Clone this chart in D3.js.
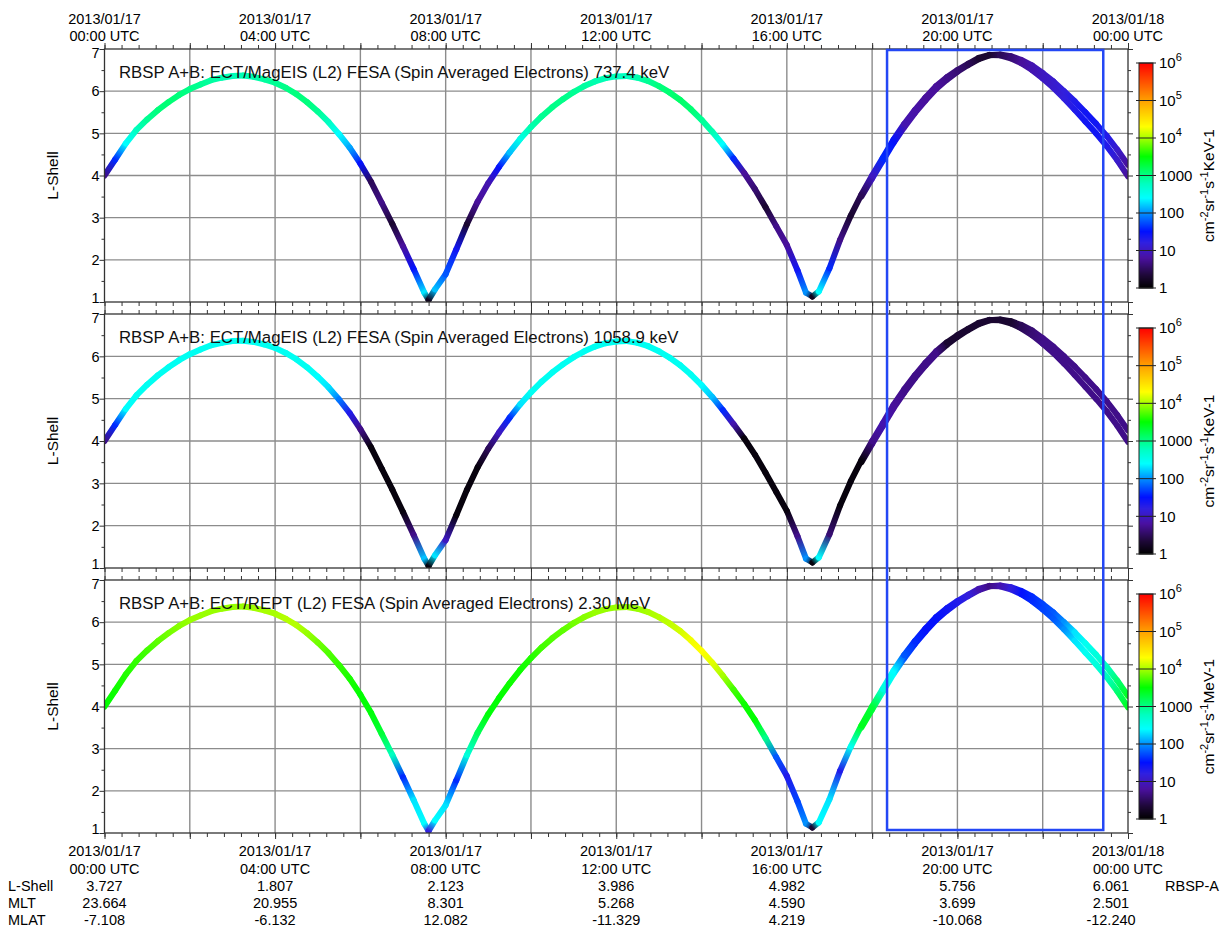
<!DOCTYPE html>
<html>
<head>
  <meta charset="UTF-8" />
  <title>RBSP A+B ECT FESA, 2013/01/17</title>
  <script src="https://cdn.jsdelivr.net/npm/d3@7"></script>
  <style>
    body { margin: 0; background: #fff; }
    svg { display: block; font-family: 'Liberation Sans', Arial, Helvetica, sans-serif; }
  </style>
</head>
<body>
<svg id="chart" width="1222" height="928"></svg>
<script>
  // hours after 2013/01/17 00:00 UTC
  const hours = [
    0, 0.25, 0.5, 0.75, 1, 1.25, 1.5, 1.75, 2, 2.25, 2.5, 2.75, 3, 3.25, 3.5, 3.75,
    4, 4.25, 4.5, 4.75, 5, 5.25, 5.5, 5.75, 6, 6.25, 6.5, 6.75, 7, 7.25, 7.5, 7.6,
    7.75, 8, 8.25, 8.5, 8.75, 9, 9.25, 9.5, 9.75, 10, 10.25, 10.5, 10.75, 11, 11.25, 11.5,
    11.75, 12, 12.25, 12.5, 12.75, 13, 13.25, 13.5, 13.75, 14, 14.25, 14.5, 14.75, 15, 15.25, 15.5,
    15.75, 16, 16.25, 16.45, 16.6, 16.75, 17, 17.25, 17.5, 17.75, 18, 18.25, 18.5, 18.75, 19, 19.25,
    19.5, 19.75, 20, 20.25, 20.5, 20.75, 21, 21.25, 21.5, 21.75, 22, 22.25, 22.5, 22.75, 23, 23.25, 23.5, 23.75, 24
  ];
  const lShellA = [
    4.00, 4.38, 4.76, 5.08, 5.33, 5.55, 5.74, 5.91, 6.05, 6.16, 6.26, 6.32, 6.36, 6.37, 6.34, 6.28,
    6.20, 6.08, 5.93, 5.74, 5.52, 5.27, 4.98, 4.66, 4.28, 3.85, 3.35, 2.85, 2.32, 1.78, 1.22, 1.05,
    1.30, 1.66, 2.25, 2.85, 3.38, 3.82, 4.20, 4.55, 4.87, 5.15, 5.40, 5.62, 5.81, 5.98, 6.12, 6.23,
    6.31, 6.35, 6.36, 6.32, 6.24, 6.12, 5.97, 5.79, 5.57, 5.32, 5.04, 4.73, 4.40, 4.06, 3.68, 3.25,
    2.80, 2.35, 1.75, 1.22, 1.13, 1.25, 1.80, 2.48, 3.05, 3.55, 4.00, 4.42, 4.85, 5.22, 5.55, 5.85,
    6.12, 6.33, 6.50, 6.65, 6.79, 6.86, 6.85, 6.78, 6.66, 6.50, 6.30, 6.08, 5.83, 5.56, 5.28, 5.00, 4.70, 4.36, 3.98
  ];
  // second spacecraft, only where it separates from the first
  const hoursB = [
    17.75, 18, 18.25, 18.5, 18.75, 19, 19.25, 19.5, 19.75, 20, 20.25, 20.5, 20.75,
    21, 21.25, 21.5, 21.75, 22, 22.25, 22.5, 22.75, 23, 23.25, 23.5, 23.75, 24
  ];
  const lShellB = [
    3.50, 3.93, 4.35, 4.77, 5.14, 5.48, 5.78, 6.05, 6.27, 6.46, 6.62, 6.76, 6.85,
    6.87, 6.83, 6.74, 6.61, 6.43, 6.23, 6.00, 5.76, 5.50, 5.23, 4.94, 4.61, 4.25
  ];

  const flux737 = [
    5, 40, 250, 600, 900, 1100, 1200, 1100, 1000, 900, 800, 700, 650, 650, 700, 800,
    900, 1000, 1100, 1100, 900, 600, 250, 120, 30, 3, 5, 2, 6, 30, 200, 1.5,
    150, 60, 25, 2, 6, 8, 30, 150, 350, 700, 900, 1000, 1000, 900, 800, 700,
    650, 600, 600, 700, 900, 1100, 1200, 1300, 1200, 900, 700, 250, 40, 6, 4, 2,
    5, 6, 25, 100, 1.5, 250, 40, 5, 2, 3, 10, 40, 30, 8, 7, 6,
    6, 5, 4, 3, 2, 2, 3, 4, 6, 8, 10, 12, 15, 20, 25, 25, 20, 12, 6
  ];
  const flux1059 = [
    5, 40, 250, 300, 300, 300, 300, 300, 300, 300, 300, 300, 300, 300, 300, 300,
    300, 300, 300, 300, 250, 200, 80, 20, 5, 1.2, 1.2, 1.2, 1.2, 5, 150, 1.2,
    200, 10, 1.2, 1.2, 1.2, 3, 10, 40, 200, 300, 300, 300, 300, 300, 300, 300,
    300, 300, 300, 300, 300, 300, 300, 300, 300, 250, 150, 40, 8, 1.2, 1.2, 1.2,
    1.2, 1.2, 5, 100, 1.2, 250, 4, 1.2, 1.2, 1.2, 5, 8, 6, 5, 5, 5,
    5, 2, 2, 2, 2, 2, 2, 2, 3, 4, 5, 5, 5, 5, 5, 5, 5, 5, 5
  ];
  const flux2300 = [
    3200, 3500, 4000, 4500, 5000, 6000, 7000, 8000, 9000, 9000, 9000, 9000, 9000, 9000, 9500, 10000,
    10000, 11000, 11000, 9000, 7000, 5500, 4500, 3800, 3200, 3000, 2000, 600, 40, 200, 250, 15,
    250, 200, 40, 400, 1500, 3000, 3200, 3500, 3500, 4000, 5000, 5500, 6000, 7000, 8000, 9000,
    9000, 9000, 9000, 9000, 10000, 11000, 12000, 14000, 18000, 20000, 16000, 10000, 5000, 3500, 3200, 1000,
    60, 20, 50, 100, 2, 250, 200, 20, 300, 2500, 2000, 400, 250, 60, 40, 30,
    30, 25, 20, 15, 8, 5, 8, 15, 30, 40, 50, 60, 100, 200, 300, 400, 600, 1200, 2500
  ];

  const panelTitles = [
    'RBSP A+B: ECT/MagEIS (L2) FESA (Spin Averaged Electrons) 737.4 keV',
    'RBSP A+B: ECT/MagEIS (L2) FESA (Spin Averaged Electrons) 1058.9 keV',
    'RBSP A+B: ECT/REPT (L2) FESA (Spin Averaged Electrons) 2.30 MeV'
  ];
  const panelUnits = ['KeV', 'KeV', 'MeV'];

  const labelHours = [0, 4, 8, 12, 16, 20, 24];
  const rowLShell = [3.727, 1.807, 2.123, 3.986, 4.982, 5.756, 6.061];
  const rowMLT = [23.664, 20.955, 8.301, 5.268, 4.590, 3.699, 2.501];
  const rowMLAT = [-7.108, -6.132, 12.082, -11.329, 4.219, -10.068, -12.240];

  const highlightHours = [18.35, 23.42];

  const colorbarTicks = [1, 10, 100, 1000, 1e4, 1e5, 1e6];
  const colorStops = [1, 2.2, 6.3, 16, 32, 100, 250, 600, 1000, 3200, 10000, 20000, 100000, 316000, 1000000];
  const colorHex = ['#000000', '#1e0838', '#4a10a0', '#3020e0', '#0010ff', '#0090ff', '#00ffff',
    '#00ffc0', '#00ff88', '#00ff00', '#a8ff00', '#ffff00', '#ffa000', '#ff5000', '#ff0000'];

  const svg = d3.select('#chart');
  const defs = svg.append('defs');

  const day0 = Date.UTC(2013, 0, 17);
  const toDate = h => new Date(day0 + h * 3600e3);

  const x = d3.scaleUtc().domain([toDate(0), toDate(24)]).range([104.5, 1128]);
  const color = d3.scaleLog().domain(colorStops).range(colorHex).clamp(true);

  const panels = [
    { top: 49, bottom: 302, flux: flux737 },
    { top: 314, bottom: 568, flux: flux1059 },
    { top: 580, bottom: 833, flux: flux2300 }
  ];

  const gridColor = '#8c8c8c';
  const majorX = d3.utcHour.range(toDate(0), toDate(24.01), 2);
  const minorX = d3.utcMinute.range(toDate(0), toDate(24.01), 24);

  panels.forEach((p, k) => {
    const y = d3.scaleLinear().domain([1, 7]).range([p.bottom, p.top]);
    const g = svg.append('g');

    // grid
    g.append('g').selectAll('line').data(majorX.slice(1, -1)).join('line')
      .attr('x1', d => x(d)).attr('x2', d => x(d))
      .attr('y1', p.top).attr('y2', p.bottom)
      .attr('stroke', gridColor).attr('stroke-width', 1.4);
    g.append('g').selectAll('line').data([2, 3, 4, 5, 6]).join('line')
      .attr('x1', x.range()[0]).attr('x2', x.range()[1])
      .attr('y1', d => y(d)).attr('y2', d => y(d))
      .attr('stroke', gridColor).attr('stroke-width', 1.4);

    // axes ticks
    const noLabel = a => a.tickFormat('').tickSizeOuter(0);
    const axes = [
      [d3.axisTop(x).tickValues(minorX).tickSize(4), `translate(0,${p.top})`],
      [d3.axisBottom(x).tickValues(minorX).tickSize(4), `translate(0,${p.bottom})`],
      [d3.axisTop(x).tickValues(majorX).tickSize(6), `translate(0,${p.top})`],
      [d3.axisBottom(x).tickValues(majorX).tickSize(6), `translate(0,${p.bottom})`],
      [d3.axisLeft(y).tickValues(d3.range(1.5, 7, 1)).tickSize(3), `translate(${x.range()[0]},0)`],
      [d3.axisRight(y).tickValues(d3.range(1.5, 7, 1)).tickSize(3), `translate(${x.range()[1]},0)`],
      [d3.axisLeft(y).tickValues(d3.range(1, 8)).tickSize(5), `translate(${x.range()[0]},0)`],
      [d3.axisRight(y).tickValues(d3.range(1, 8)).tickSize(5), `translate(${x.range()[1]},0)`]
    ];
    axes.forEach(([a, tr]) => {
      g.append('g').attr('transform', tr).call(noLabel(a))
        .call(s => s.select('.domain').remove())
        .call(s => s.selectAll('line').attr('stroke', '#333'));
    });

    // y labels; the end values are nudged inward so neighbouring panels do not collide
    g.append('g').selectAll('text').data(d3.range(1, 8)).join('text')
      .attr('x', x.range()[0] - 5).attr('y', d => y(d))
      .attr('dy', d => d === 1 ? '0.1em' : d === 7 ? '0.62em' : '0.36em')
      .attr('text-anchor', 'end')
      .attr('font-size', 14.5).text(d => d);
    g.append('text')
      .attr('transform', `translate(58,${(p.top + p.bottom) / 2}) rotate(-90)`)
      .attr('text-anchor', 'middle').attr('font-size', 15.5).text('L-Shell');

    // data
    const clipId = 'clip' + k;
    defs.append('clipPath').attr('id', clipId).append('rect')
      .attr('x', x.range()[0]).attr('y', p.top)
      .attr('width', x.range()[1] - x.range()[0]).attr('height', p.bottom - p.top);
    const dg = g.append('g').attr('clip-path', `url(#${clipId})`);

    const drawSeries = (hs, ls, fl, tag) => {
      const segs = d3.range(hs.length - 1).map(i => ({
        x1: x(toDate(hs[i])), y1: y(ls[i]),
        x2: x(toDate(hs[i + 1])), y2: y(ls[i + 1]),
        c1: color(fl[i]), c2: color(fl[i + 1]),
        id: `s${k}${tag}${i}`
      }));
      const grads = defs.selectAll(null).data(segs).join('linearGradient')
        .attr('id', d => d.id).attr('gradientUnits', 'userSpaceOnUse')
        .attr('x1', d => d.x1).attr('y1', d => d.y1)
        .attr('x2', d => d.x2).attr('y2', d => d.y2);
      grads.append('stop').attr('offset', 0).attr('stop-color', d => d.c1);
      grads.append('stop').attr('offset', 1).attr('stop-color', d => d.c2);
      dg.append('g').selectAll('line').data(segs).join('line')
        .attr('x1', d => d.x1).attr('y1', d => d.y1)
        .attr('x2', d => d.x2).attr('y2', d => d.y2)
        .attr('stroke', d => `url(#${d.id})`)
        .attr('stroke-width', 6).attr('stroke-linecap', 'round');
    };
    const fluxB = hoursB.map(h => p.flux[hours.indexOf(h)]);
    drawSeries(hoursB, lShellB, fluxB, 'b');
    drawSeries(hours, lShellA, p.flux, 'a');

    // frame
    g.append('rect')
      .attr('x', x.range()[0]).attr('y', p.top)
      .attr('width', x.range()[1] - x.range()[0]).attr('height', p.bottom - p.top)
      .attr('fill', 'none').attr('stroke', '#333').attr('stroke-width', 1.3);

    // title
    g.append('text').attr('x', 119).attr('y', p.top + 29)
      .attr('font-size', 16.8).attr('fill', '#111').text(panelTitles[k]);

    // colorbar
    const cb = d3.scaleLog().domain([1, 1e6]).range([p.bottom - 14, p.top + 14]);
    const cbx = 1139, cbw = 14;
    const rows = d3.range(cb.range()[1], cb.range()[0]);
    g.append('g').selectAll('rect').data(rows).join('rect')
      .attr('x', cbx).attr('y', d => d).attr('width', cbw).attr('height', 1.2)
      .attr('fill', d => color(cb.invert(d + 0.5)));
    g.append('rect').attr('x', cbx).attr('y', cb.range()[1])
      .attr('width', cbw).attr('height', cb.range()[0] - cb.range()[1])
      .attr('fill', 'none').attr('stroke', '#222').attr('stroke-width', 1);
    g.append('g').selectAll('line').data(colorbarTicks).join('line')
      .attr('x1', cbx - 3).attr('x2', cbx + cbw + 3)
      .attr('y1', d => cb(d)).attr('y2', d => cb(d))
      .attr('stroke', '#222').attr('stroke-width', 1);
    const tl = g.append('g').selectAll('text').data(colorbarTicks).join('text')
      .attr('x', cbx + cbw + 6).attr('y', d => cb(d)).attr('dy', '0.36em')
      .attr('font-size', 15);
    tl.each(function (d) {
      const t = d3.select(this);
      if (d >= 1e4) {
        t.append('tspan').text('10');
        t.append('tspan').attr('dy', -7).attr('font-size', 11).text(Math.round(Math.log10(d)));
      } else {
        t.text(d);
      }
    });

    // units
    const ut = g.append('text')
      .attr('transform', `translate(1214,${(p.top + p.bottom) / 2 + 10}) rotate(-90)`)
      .attr('text-anchor', 'middle').attr('font-size', 15.5);
    const parts = [['cm'], ['-2', 1], ['sr'], ['-1', 1], ['s'], ['-1', 1], [panelUnits[k] + '-1']];
    parts.forEach(([s, sup]) => {
      ut.append('tspan').attr('baseline-shift', sup ? 'super' : null)
        .attr('font-size', sup ? 11 : 15.5).text(s);
    });
  });

  // highlight box
  svg.append('rect')
    .attr('x', x(toDate(highlightHours[0]))).attr('y', panels[0].top + 1)
    .attr('width', x(toDate(highlightHours[1])) - x(toDate(highlightHours[0])))
    .attr('height', panels[2].bottom - 3 - panels[0].top - 1)
    .attr('fill', 'none').attr('stroke', '#2347f5').attr('stroke-width', 2.5);

  // time labels
  const fmtDate = d3.utcFormat('%Y/%m/%d');
  const fmtTime = d3.utcFormat('%H:%M UTC');
  const labDates = labelHours.map(toDate);
  const timeLabels = (y1, y2) => {
    const g = svg.append('g').attr('font-size', 14.5).attr('text-anchor', 'middle');
    g.selectAll('.d').data(labDates).join('text').attr('x', d => x(d)).attr('y', y1).text(fmtDate);
    g.selectAll('.t').data(labDates).join('text').attr('x', d => x(d)).attr('y', y2).text(fmtTime);
  };
  timeLabels(24, 41);
  timeLabels(856, 874);

  // ephemeris table
  const table = [['L-Shell', rowLShell, 891], ['MLT', rowMLT, 908], ['MLAT', rowMLAT, 925]];
  const tg = svg.append('g').attr('font-size', 14.5);
  table.forEach(([name, vals, yy]) => {
    tg.append('text').attr('x', 8).attr('y', yy).text(name);
    tg.append('g').selectAll('text').data(vals).join('text')
      .attr('x', (d, i) => x(labDates[i]) - (i === vals.length - 1 ? 17 : 0))
      .attr('y', yy).attr('text-anchor', 'middle')
      .text(d => d.toFixed(3));
  });
  tg.append('text').attr('x', 1165).attr('y', 891).text('RBSP-A');
</script>
</body>
</html>
